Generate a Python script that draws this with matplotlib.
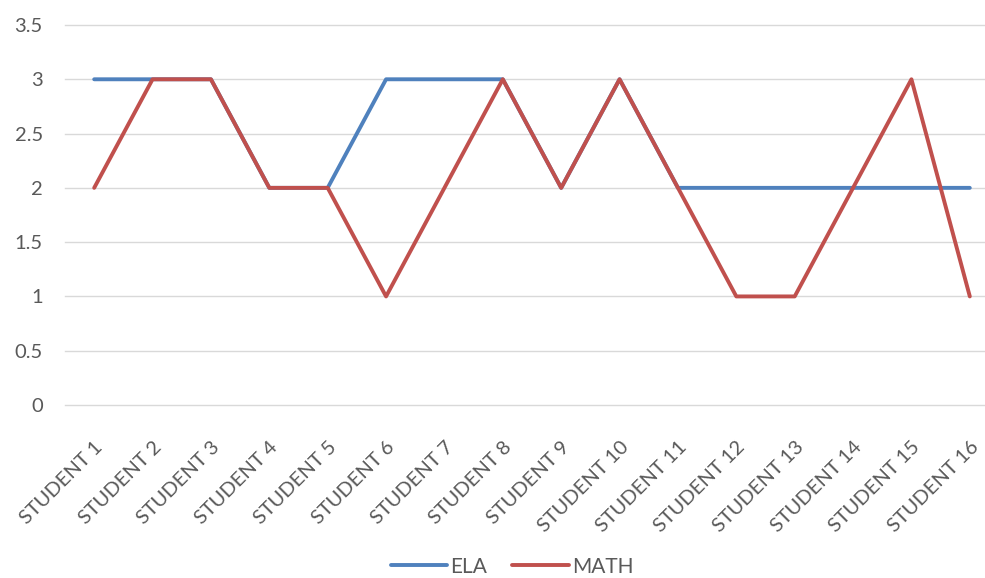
import matplotlib.pyplot as plt

students = [f"STUDENT {i}" for i in range(1, 17)]
ela = [3, 3, 3, 2, 2, 3, 3, 3, 2, 3, 2, 2, 2, 2, 2, 2]
math = [2, 3, 3, 2, 2, 1, 2, 3, 2, 3, 2, 1, 1, 2, 3, 1]
yticks = [0, 0.5, 1, 1.5, 2, 2.5, 3, 3.5]

plt.rcParams['font.family'] = ['Lato', 'DejaVu Sans']

fig = plt.figure(figsize=(9.85, 5.78), dpi=100)
ax = fig.add_axes([65 / 985, (578 - 405) / 578, 934 / 985, 380 / 578])

x = range(len(students))
ax.plot(x, ela, color='#4F81BD', lw=2.8, solid_capstyle='round', label='ELA')
ax.plot(x, math, color='#C0504D', lw=2.8, solid_capstyle='round', label='MATH')

ax.set_xlim(-0.5, len(students) - 0.5)
ax.set_ylim(0, 3.5)
ax.set_yticks(yticks)
ax.set_yticklabels([f"{v:g}" for v in yticks])

# griglia orizzontale, anche la linea dello zero sul bordo
ax.grid(axis='y', color='#D9D9D9', lw=1)
for gl in ax.get_ygridlines():
    gl.set_clip_on(False)
ax.set_axisbelow(True)
for s in ax.spines.values():
    s.set_visible(False)

ax.tick_params(length=0, labelsize=14.5, labelcolor='#595959')
ax.tick_params(axis='y', pad=16)
ax.set_xticks(list(x))
ax.set_xticklabels(students, rotation=45, ha='right', va='top',
                   rotation_mode='anchor')
ax.tick_params(axis='x', pad=24)

fig.legend(loc='lower center', bbox_to_anchor=(0.52, -0.03), ncol=2,
           frameon=False, fontsize=15, labelcolor='#595959',
           handlelength=2.7, columnspacing=1.2, handletextpad=0.15)

fig.savefig('out.png', dpi=100)
